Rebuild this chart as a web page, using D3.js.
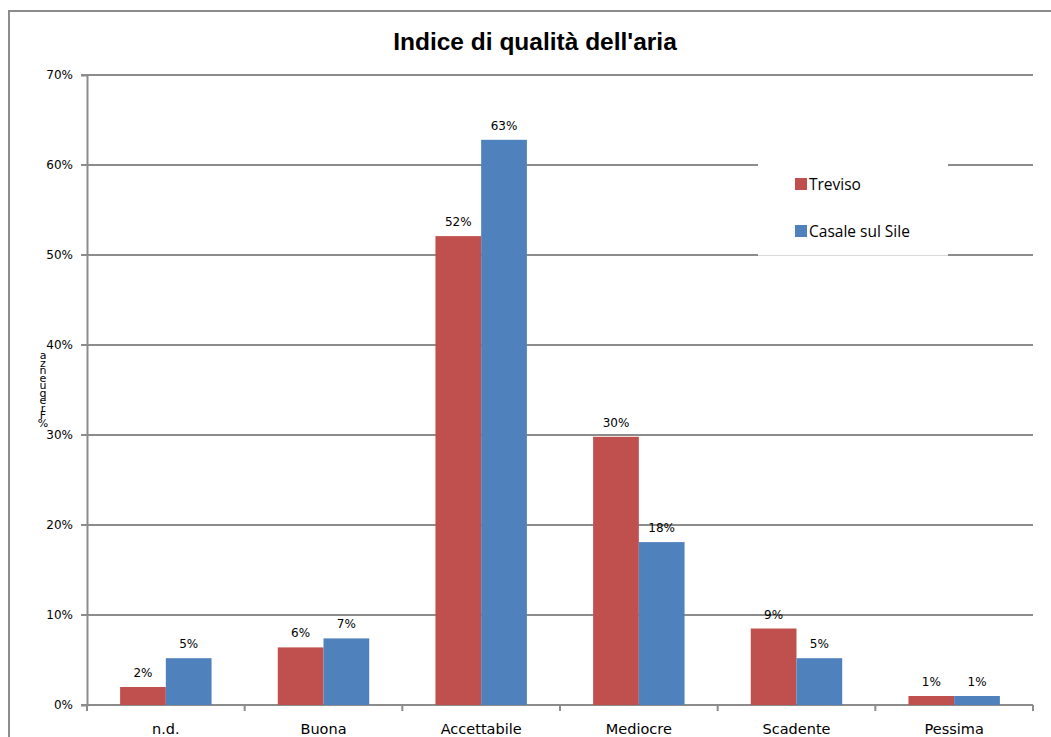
<!DOCTYPE html>
<html>
<head>
<meta charset="utf-8">
<script src="https://cdn.jsdelivr.net/npm/d3@7"></script>
<style>
  body { margin: 0; background: #fff; }
  svg { display: block; }
</style>
</head>
<body>
<div class="wrapper"></div>
<script>
var categories = ["n.d.", "Buona", "Accettabile", "Mediocre", "Scadente", "Pessima"];
var seriesNames = ["Treviso", "Casale sul Sile"];
var treviso = [2.0, 6.4, 52.1, 29.8, 8.5, 1.0];
var casale = [5.2, 7.4, 62.8, 18.1, 5.2, 1.0];
var yTicks = [0, 10, 20, 30, 40, 50, 60, 70];
var colors = ["#c0504d", "#4f81bd"];

var width = 1051, height = 737;
var margin = {left: 87, right: 18, top: 75, bottom: 32};

var svg = d3.select(".wrapper").append("svg")
    .attr("width", width)
    .attr("height", height);

// outer chart frame
svg.append("path")
    .attr("d", "M9,737V11H1051")
    .attr("fill", "none")
    .attr("stroke", "#8c8c8c")
    .attr("stroke-width", 2);

svg.append("text")
    .attr("x", 535)
    .attr("y", 50)
    .attr("text-anchor", "middle")
    .style("font-family", "'Liberation Sans Narrow', 'Liberation Sans', sans-serif")
    .style("font-weight", "bold")
    .style("font-size", "24.5px")
    .text("Indice di qualità dell'aria");

var x = d3.scaleBand()
    .domain(categories)
    .range([margin.left, width - margin.right])
    .paddingInner(0.42)
    .paddingOuter(0.21);

var x1 = d3.scaleBand()
    .domain(seriesNames)
    .range([0, x.bandwidth()]);

var y = d3.scaleLinear()
    .domain([0, 70])
    .range([height - margin.bottom, margin.top]);

// gridlines
svg.append("g")
    .selectAll("line")
    .data(yTicks)
    .enter().append("line")
    .attr("x1", margin.left - 6)
    .attr("x2", width - margin.right)
    .attr("y1", function(d) { return y(d); })
    .attr("y2", function(d) { return y(d); })
    .attr("stroke", "#8c8c8c")
    .attr("stroke-width", 2);

// y axis
var yAxis = svg.append("g")
    .attr("transform", "translate(" + margin.left + ",0)")
    .call(d3.axisLeft(y).tickValues(yTicks).tickSize(6)
        .tickFormat(function(d) { return d + "%"; }));
yAxis.select(".domain").attr("stroke", "#8c8c8c").attr("stroke-width", 2);
yAxis.selectAll(".tick line").attr("stroke", "none");
yAxis.selectAll(".tick text")
    .attr("x", -14)
    .style("font-family", "'DejaVu Sans', sans-serif")
    .style("font-size", "12px")
    .attr("fill", "#000");

// x axis with ticks between categories
var xAxisG = svg.append("g")
    .attr("transform", "translate(0," + y(0) + ")");
xAxisG.append("line")
    .attr("x1", margin.left)
    .attr("x2", width - margin.right)
    .attr("stroke", "#8c8c8c")
    .attr("stroke-width", 2);
var step = x.step();
var boundaries = d3.range(categories.length + 1).map(function(i) { return margin.left + i * step; });
xAxisG.selectAll(".xt")
    .data(boundaries)
    .enter().append("line")
    .attr("class", "xt")
    .attr("x1", function(d) { return d; })
    .attr("x2", function(d) { return d; })
    .attr("y1", 0)
    .attr("y2", 6)
    .attr("stroke", "#8c8c8c")
    .attr("stroke-width", 2);
xAxisG.selectAll(".xl")
    .data(categories)
    .enter().append("text")
    .attr("class", "xl")
    .attr("x", function(d) { return x(d) + x.bandwidth() / 2; })
    .attr("y", 29)
    .attr("text-anchor", "middle")
    .style("font-family", "'DejaVu Sans', sans-serif")
    .style("font-size", "14.5px")
    .text(function(d) { return d; });

// bars
var series = [treviso, casale];
var groups = svg.append("g")
    .selectAll("g")
    .data(series)
    .enter().append("g")
    .attr("fill", function(d, i) { return colors[i]; });

groups.each(function(vals, si) {
    var g = d3.select(this);
    g.selectAll("rect")
        .data(vals)
        .enter().append("rect")
        .attr("x", function(d, i) { return x(categories[i]) + x1(seriesNames[si]); })
        .attr("width", x1.bandwidth())
        .attr("y", function(d) { return y(d); })
        .attr("height", function(d) { return y(0) - y(d); });
    g.selectAll("text")
        .data(vals)
        .enter().append("text")
        .attr("x", function(d, i) { return x(categories[i]) + x1(seriesNames[si]) + x1.bandwidth() / 2; })
        .attr("y", function(d) { return y(d) - 10; })
        .attr("text-anchor", "middle")
        .attr("fill", "#000")
        .style("font-family", "'DejaVu Sans', sans-serif")
        .style("font-size", "12px")
        .text(function(d) { return Math.round(d) + "%"; });
});

// legend
var legend = svg.append("g").attr("transform", "translate(758,165)");
legend.append("rect")
    .attr("x", 0).attr("y", -1)
    .attr("width", 190).attr("height", 91)
    .attr("fill", "#fff");
legend.append("line")
    .attr("x1", 0).attr("x2", 190)
    .attr("y1", 90.5).attr("y2", 90.5)
    .attr("stroke", "#d9d9d9");
var li = legend.selectAll(".li")
    .data(seriesNames)
    .enter().append("g")
    .attr("class", "li")
    .attr("transform", function(d, i) { return "translate(37," + (13 + i * 47) + ")"; });
li.append("rect")
    .attr("width", 12).attr("height", 12)
    .attr("fill", function(d, i) { return colors[i]; });
li.append("text")
    .attr("x", 14)
    .attr("y", 12)
    .style("font-family", "'Open Sans', sans-serif")
    .style("font-size", "15.5px")
    .text(function(d) { return d; });

// y label: letters stacked upright, read from bottom to top
svg.append("text")
    .attr("x", 43)
    .attr("y", 349)
    .style("writing-mode", "vertical-rl")
    .style("text-orientation", "upright")
    .style("letter-spacing", "-5.5px")
    .style("font-family", "'DejaVu Sans', sans-serif")
    .style("font-size", "11px")
    .text("%Frequenza".split("").reverse().join(""));
</script>
</body>
</html>
